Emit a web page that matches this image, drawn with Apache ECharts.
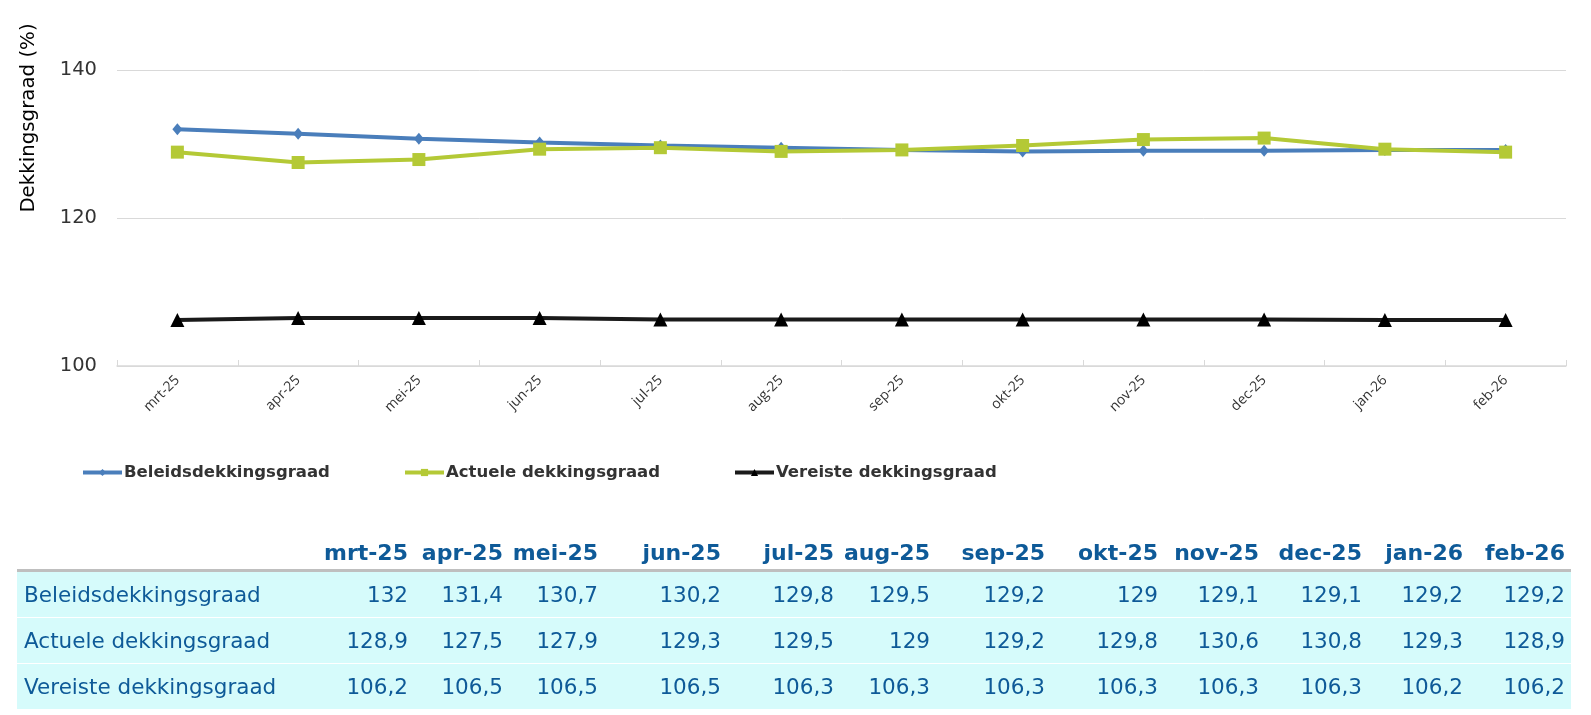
<!DOCTYPE html>
<html>
<head>
<meta charset="utf-8">
<script src="https://cdn.jsdelivr.net/npm/echarts@6.0.0/dist/echarts.min.js"></script>
<style>
  html, body { margin: 0; padding: 0; background: #fff; }
  #chart { position: absolute; left: 0; top: 0; width: 1591px; height: 715px; }
  #dataTable {
    position: absolute; left: 17px; top: 536px;
    border-collapse: collapse; table-layout: fixed;
    font-family: "DejaVu Sans", Verdana, sans-serif;
    color: #0e5a98;
  }
  #dataTable th {
    font-size: 22px; font-weight: bold; text-align: right;
    height: 33px; padding: 0 6px 0 0; white-space: nowrap;
    border-bottom: 3px solid #bfbfbf; vertical-align: middle;
  }
  #dataTable td {
    font-size: 21.5px; background: #d6fbfb; height: 45px;
    padding: 0 6px 0 0; text-align: right; white-space: nowrap;
    border-bottom: 1px solid #ffffff; vertical-align: middle;
  }
  #dataTable td.name { text-align: left; padding-left: 7px; }
  #dataTable tr:last-child td { border-bottom: none; }
</style>
</head>
<body>
<div id="chart"></div>
<table id="dataTable"></table>
<script>
// Data
var categories = ['mrt-25', 'apr-25', 'mei-25', 'jun-25', 'jul-25', 'aug-25',
                  'sep-25', 'okt-25', 'nov-25', 'dec-25', 'jan-26', 'feb-26'];
var seriesNames = ['Beleidsdekkingsgraad', 'Actuele dekkingsgraad', 'Vereiste dekkingsgraad'];
var beleids  = [132, 131.4, 130.7, 130.2, 129.8, 129.5, 129.2, 129, 129.1, 129.1, 129.2, 129.2];
var actuele  = [128.9, 127.5, 127.9, 129.3, 129.5, 129, 129.2, 129.8, 130.6, 130.8, 129.3, 128.9];
var vereiste = [106.2, 106.5, 106.5, 106.5, 106.3, 106.3, 106.3, 106.3, 106.3, 106.3, 106.2, 106.2];
var yTicks = { min: 100, max: 140, interval: 20 };

// Layout (table column widths in px)
var colWidths = [302, 95, 95, 95, 123, 113, 96, 115, 113, 101, 103, 101, 102];

var seriesValues = [beleids, actuele, vereiste];
var colors = ['#4a7ebb', '#b4c936', '#1a1a1a'];
var symbols = ['diamond', 'rect', 'triangle'];
var symbolSizes = [[10, 12], 13, 14];

var chart = echarts.init(document.getElementById('chart'));

var series = seriesNames.map(function (name, i) {
    return {
        name: name,
        type: 'line',
        data: seriesValues[i],
        symbol: symbols[i],
        symbolSize: symbolSizes[i],
        showAllSymbol: true,
        lineStyle: { color: colors[i], width: 4 },
        itemStyle: { color: i === 2 ? '#000' : colors[i] },
        emphasis: { disabled: true },
        z: 2 + i
    };
});

var legendLefts = [76, 398, 728];
var legends = seriesNames.map(function (name, i) {
    return {
        data: [name],
        left: legendLefts[i],
        top: 459,
        itemWidth: 39,
        itemHeight: 9,
        selectedMode: false,
        lineStyle: { width: 4 },
        textStyle: {
            fontFamily: 'DejaVu Sans',
            fontWeight: 'bold',
            fontSize: 16.5,
            color: '#333333',
            padding: [0, 0, 0, -3]
        }
    };
});

var option = {
    animation: false,
    grid: { left: 117, right: 25, top: 70, bottom: 349 },
    legend: legends,
    graphic: [{
        type: 'text',
        x: 29,
        y: 118,
        rotation: Math.PI / 2,
        style: {
            text: 'Dekkingsgraad (%)',
            fontFamily: 'DejaVu Sans',
            fontSize: 19.8,
            fill: '#000',
            align: 'center',
            verticalAlign: 'middle'
        }
    }],
    xAxis: {
        type: 'category',
        data: categories,
        boundaryGap: true,
        axisLine: { lineStyle: { color: '#d9d9d9', width: 1.5 } },
        axisTick: { show: true, inside: true, length: 6, lineStyle: { color: '#d9d9d9' } },
        axisLabel: {
            rotate: 45,
            interval: 0,
            margin: 12,
            fontFamily: 'Open Sans',
            fontSize: 14,
            color: '#333333'
        }
    },
    yAxis: {
        type: 'value',
        min: yTicks.min,
        max: yTicks.max,
        interval: yTicks.interval,
        axisLine: { show: false },
        axisTick: { show: false },
        splitLine: { lineStyle: { color: '#d9d9d9', width: 1 } },
        axisLabel: {
            margin: 20,
            fontFamily: 'DejaVu Sans',
            fontSize: 19.5,
            color: '#333333'
        }
    },
    series: series
};
chart.setOption(option);

// Data table below the chart
function fmt(v) {
    return String(v).replace('.', ',');
}
var table = document.getElementById('dataTable');
var html = '<colgroup>';
colWidths.forEach(function (w) { html += '<col style="width:' + w + 'px">'; });
html += '</colgroup><tr><th></th>';
categories.forEach(function (c) { html += '<th>' + c + '</th>'; });
html += '</tr>';
seriesNames.forEach(function (name, i) {
    html += '<tr><td class="name">' + name + '</td>';
    seriesValues[i].forEach(function (v) { html += '<td>' + fmt(v) + '</td>'; });
    html += '</tr>';
});
table.innerHTML = html;
</script>
</body>
</html>
